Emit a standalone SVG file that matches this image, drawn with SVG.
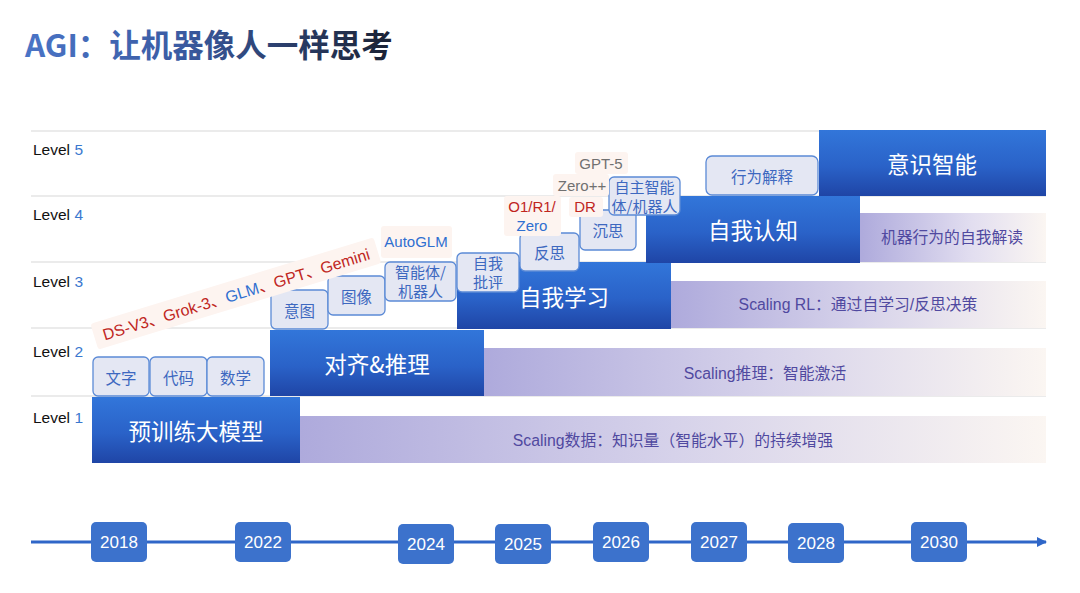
<svg xmlns="http://www.w3.org/2000/svg" width="1080" height="593" viewBox="0 0 1080 593">
<defs>
<linearGradient id="titleGrad" gradientUnits="userSpaceOnUse" x1="25" y1="0" x2="400" y2="0">
<stop offset="0" stop-color="#4a74c6"/>
<stop offset="0.4" stop-color="#3b5ca4"/>
<stop offset="1" stop-color="#1a2030"/>
</linearGradient>
<linearGradient id="blueGrad" x1="0" y1="0" x2="0" y2="1">
<stop offset="0" stop-color="#3276da"/>
<stop offset="0.55" stop-color="#2a62c8"/>
<stop offset="1" stop-color="#1f45a6"/>
</linearGradient>
<linearGradient id="purpleGrad" x1="0" y1="0" x2="1" y2="0">
<stop offset="0" stop-color="#aeaadc"/>
<stop offset="0.5" stop-color="#d6d2ea"/>
<stop offset="1" stop-color="#fbf6f2"/>
</linearGradient>
<linearGradient id="purpleGradShort" x1="0" y1="0" x2="1" y2="0">
<stop offset="0" stop-color="#aeaadc"/>
<stop offset="0.6" stop-color="#e2def0"/>
<stop offset="1" stop-color="#fbf6f2"/>
</linearGradient>
<marker id="arrow" markerWidth="10" markerHeight="10" refX="9" refY="5" orient="auto" markerUnits="userSpaceOnUse">
<path d="M0,0 L10,5 L0,10 Z" fill="#2f66c8"/>
</marker>
<style>
.lvl{font-family:"Liberation Sans",Arial,sans-serif;font-size:15.5px;fill:#111}
.lvn{fill:#3a78cf}
.grid{stroke:#e4e4e4;stroke-width:1.5}
.big{font-family:"Noto Sans CJK SC","Liberation Sans",sans-serif;font-size:22.5px;fill:#fff;text-anchor:middle;dominant-baseline:central}
.blk{fill:url(#blueGrad)}
.band{fill:url(#purpleGrad)}
.bandt{font-family:"Liberation Sans","Noto Sans CJK SC",sans-serif;font-size:15.8px;fill:#5049a0;text-anchor:middle;dominant-baseline:central}
.box{fill:#e4e7f3;stroke:#5b8ad6;stroke-width:1.3}
.boxt{font-family:"Noto Sans CJK SC","Liberation Sans",sans-serif;font-size:15.5px;fill:#3d68c0;text-anchor:middle;dominant-baseline:central}
.box2{font-family:"Noto Sans CJK SC","Liberation Sans",sans-serif;font-size:15px;fill:#3d68c0;text-anchor:middle}
.tag{fill:#fdf4f0}
.red{fill:#c0261e}
.blu{fill:#2f6fd0}
.gry{fill:#707070}
.lab{font-family:"Liberation Sans","Noto Sans CJK SC",sans-serif;font-size:15px;text-anchor:middle}
.yr{fill:#3c72cc}
.yrt{font-family:"Liberation Sans",Arial,sans-serif;font-size:17px;fill:#fff;text-anchor:middle;dominant-baseline:central}
</style>
</defs>
<rect width="1080" height="593" fill="#fff"/>

<text x="25" y="57" font-family="'Noto Sans CJK SC','Liberation Sans',sans-serif" font-size="31.5" font-weight="bold" fill="url(#titleGrad)">AGI：让机器像人一样思考</text>

<g id="grid">
<line class="grid" x1="31" y1="131" x2="1046" y2="131"/>
<line class="grid" x1="31" y1="196" x2="1046" y2="196"/>
<line class="grid" x1="31" y1="262" x2="1046" y2="262"/>
<line class="grid" x1="31" y1="328" x2="1046" y2="328"/>
<line class="grid" x1="31" y1="396" x2="1046" y2="396"/>
</g>

<g id="levels">
<text class="lvl" x="33" y="155">Level <tspan class="lvn">5</tspan></text>
<text class="lvl" x="33" y="220">Level <tspan class="lvn">4</tspan></text>
<text class="lvl" x="33" y="287">Level <tspan class="lvn">3</tspan></text>
<text class="lvl" x="33" y="357">Level <tspan class="lvn">2</tspan></text>
<text class="lvl" x="33" y="423">Level <tspan class="lvn">1</tspan></text>
</g>

<g id="band1"><rect class="band" x="300" y="416" width="746" height="47"/><text class="bandt" x="673" y="440">Scaling数据：知识量（智能水平）的持续增强</text></g>
<g id="band2"><rect class="band" x="484" y="348" width="562" height="48"/><text class="bandt" x="765" y="373">Scaling推理：智能激活</text></g>
<g id="band3"><rect class="band" x="671" y="281" width="375" height="47"/><text class="bandt" x="858" y="304">Scaling RL：通过自学习/反思决策</text></g>
<g id="band4"><rect fill="url(#purpleGradShort)" x="860" y="213" width="186" height="49"/><text class="bandt" x="952" y="237">机器行为的自我解读</text></g>

<g id="stage1"><rect class="blk" x="92" y="397" width="208" height="66"/><text class="big" x="196" y="430">预训练大模型</text></g>
<g id="stage2"><rect class="blk" x="270" y="330" width="214" height="66"/><text class="big" x="377" y="363">对齐&amp;推理</text></g>
<g id="stage3"><rect class="blk" x="457" y="262" width="214" height="67"/><text class="big" x="564" y="296">自我学习</text></g>
<g id="stage4"><rect class="blk" x="646" y="196" width="214" height="67"/><text class="big" x="753" y="229">自我认知</text></g>
<g id="stage5"><rect class="blk" x="819" y="130" width="227" height="66"/><text class="big" x="932" y="163">意识智能</text></g>

<g id="box-wenzi"><rect class="box" x="93" y="357" width="56" height="39" rx="5"/><text class="boxt" x="121" y="377">文字</text></g>
<g id="box-daima"><rect class="box" x="150" y="357" width="57" height="39" rx="5"/><text class="boxt" x="178.5" y="377">代码</text></g>
<g id="box-shuxue"><rect class="box" x="207" y="357" width="57" height="39" rx="5"/><text class="boxt" x="235.5" y="377">数学</text></g>
<g id="box-yitu"><rect class="box" x="271" y="290" width="57" height="39" rx="5"/><text class="boxt" x="299.5" y="310">意图</text></g>
<g id="box-tuxiang"><rect class="box" x="328" y="276" width="57" height="39" rx="5"/><text class="boxt" x="356.5" y="296">图像</text></g>
<g id="box-agent"><rect class="box" x="385" y="262" width="71" height="39" rx="5"/><text class="box2" x="420.5" y="278">智能体/<tspan x="420.5" dy="18.5">机器人</tspan></text></g>
<g id="box-pipin"><rect class="box" x="457" y="253" width="62" height="39" rx="5"/><text class="box2" x="488" y="269">自我<tspan x="488" dy="18.5">批评</tspan></text></g>
<g id="box-fansi"><rect class="box" x="520" y="233" width="59" height="38" rx="5"/><text class="boxt" x="549.5" y="252">反思</text></g>
<g id="box-chensi"><rect class="box" x="580" y="210" width="56" height="40" rx="5"/><text class="boxt" x="608" y="230">沉思</text></g>
<g id="box-zizhu"><rect class="box" x="609" y="177" width="71" height="38" rx="5"/><text class="box2" x="644.5" y="193">自主智能<tspan x="644.5" dy="18.5">体/机器人</tspan></text></g>
<g id="box-xingwei"><rect class="box" x="706" y="156" width="112" height="39" rx="6"/><text class="boxt" x="762" y="176">行为解释</text></g>

<g id="models-rot" transform="rotate(-17 236 294)">
<rect class="tag" x="88" y="280" width="296" height="27" rx="3"/>
<text x="236" y="300" font-family="'Liberation Sans','Noto Sans CJK SC',sans-serif" font-size="16" text-anchor="middle"><tspan class="red">DS-V3、Grok-3、</tspan><tspan class="blu">GLM</tspan><tspan class="red">、GPT、Gemini</tspan></text>
</g>
<g id="model-autoglm"><rect class="tag" x="381" y="226" width="71" height="32" rx="3"/><text class="lab blu" x="416" y="247">AutoGLM</text></g>
<g id="model-o1"><rect class="tag" x="504" y="196" width="57" height="40" rx="3"/><text class="lab red" x="532" y="212">O1/R1/<tspan class="blu" x="532" dy="19">Zero</tspan></text></g>
<g id="model-dr"><rect class="tag" x="569" y="197" width="34" height="20" rx="3"/><text class="lab red" x="585" y="212">DR</text></g>
<g id="model-zeropp"><rect class="tag" x="553" y="174" width="56" height="22" rx="3"/><text class="lab gry" x="582" y="191">Zero++</text></g>
<g id="model-gpt5"><rect class="tag" x="575" y="152" width="53" height="22" rx="3"/><text class="lab gry" x="601" y="169">GPT-5</text></g>

<g id="connectors">
<line x1="31" y1="542" x2="1046" y2="542" stroke="#2f66c8" stroke-width="3" marker-end="url(#arrow)"/>
</g>

<g id="y2018"><rect class="yr" x="91" y="522" width="56" height="40" rx="5"/><text class="yrt" x="119" y="542">2018</text></g>
<g id="y2022"><rect class="yr" x="235" y="522" width="56" height="40" rx="5"/><text class="yrt" x="263" y="542">2022</text></g>
<g id="y2024"><rect class="yr" x="398" y="524" width="56" height="40" rx="5"/><text class="yrt" x="426" y="544">2024</text></g>
<g id="y2025"><rect class="yr" x="495" y="524" width="56" height="40" rx="5"/><text class="yrt" x="523" y="544">2025</text></g>
<g id="y2026"><rect class="yr" x="593" y="522" width="56" height="40" rx="5"/><text class="yrt" x="621" y="542">2026</text></g>
<g id="y2027"><rect class="yr" x="691" y="522" width="56" height="40" rx="5"/><text class="yrt" x="719" y="542">2027</text></g>
<g id="y2028"><rect class="yr" x="788" y="523" width="56" height="40" rx="5"/><text class="yrt" x="816" y="543">2028</text></g>
<g id="y2030"><rect class="yr" x="911" y="522" width="56" height="40" rx="5"/><text class="yrt" x="939" y="542">2030</text></g>
</svg>
